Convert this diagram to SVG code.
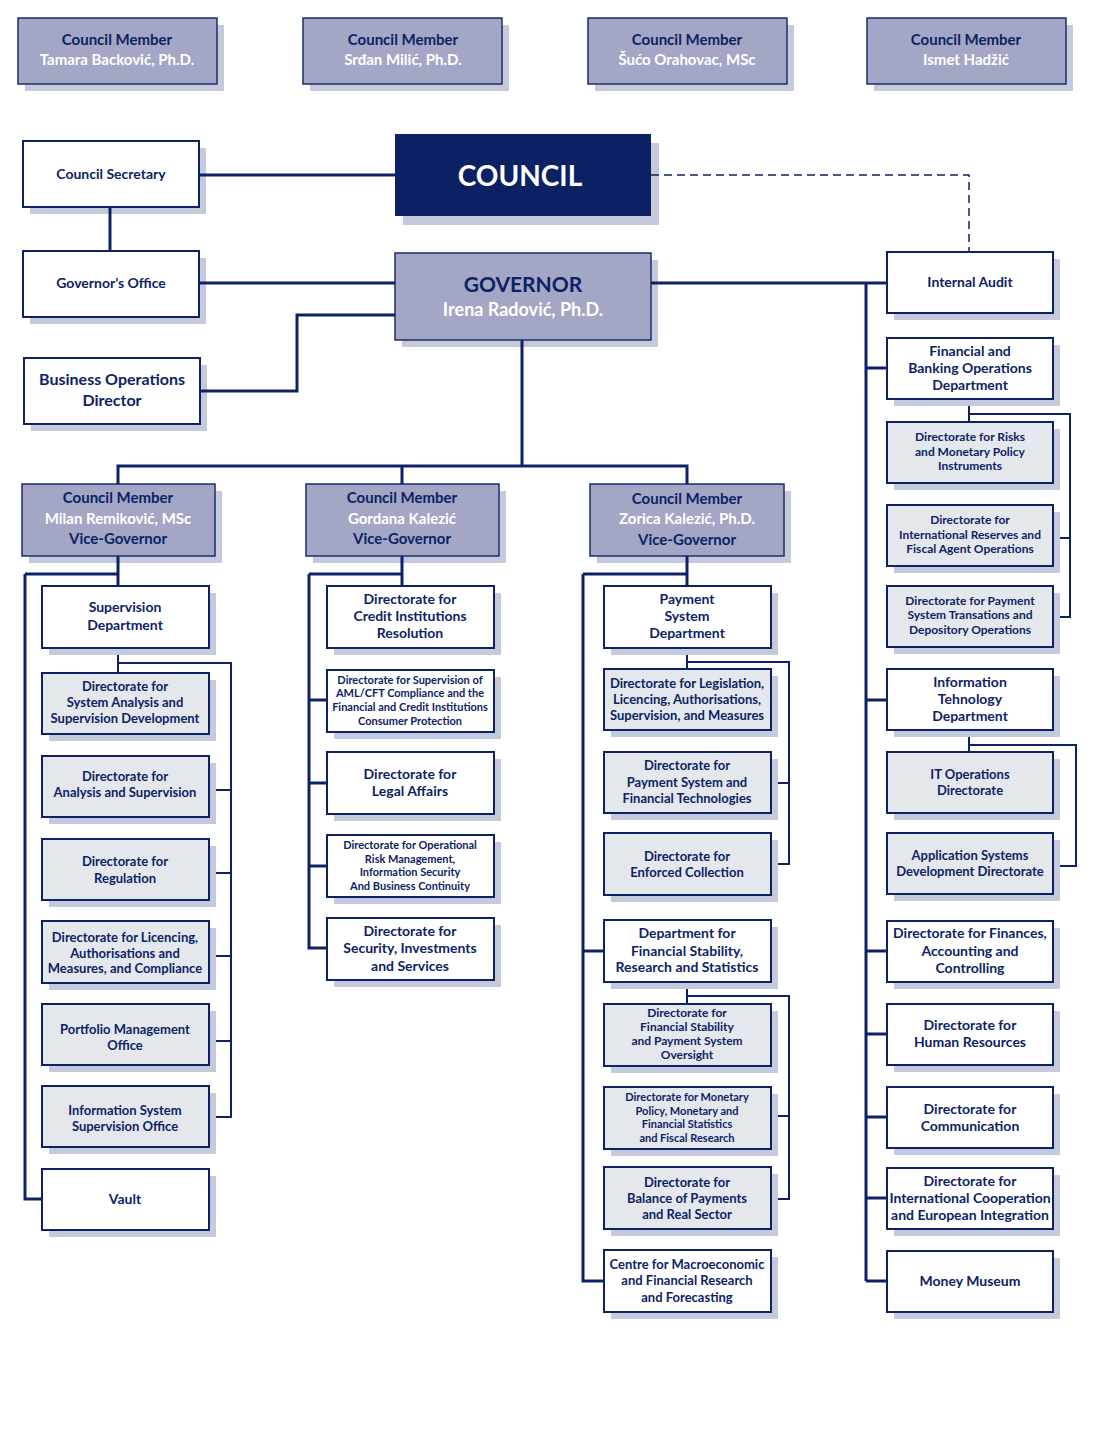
<svg xmlns="http://www.w3.org/2000/svg" width="1100" height="1445" viewBox="0 0 1100 1445">
<style>
.sh{fill:#c5c9dc}
.bw{fill:#fff;stroke:#0d2266;stroke-width:2}
.bg{fill:#e4e7ec;stroke:#0d2266;stroke-width:2}
.bm{fill:#a3a6c4;stroke:#1b2d6e;stroke-width:1.5}
.bc{fill:#0b2163}
text{font-family:Lato,"Open Sans","Liberation Sans",sans-serif;font-weight:700;fill:#0d2266;text-anchor:middle}
.w{fill:#fff}
.f15{font-size:15px}.f14{font-size:14px}.f13{font-size:13px}.f12{font-size:12px}.f11{font-size:11px}
.c{fill:none;stroke:#0d2266;stroke-width:3}
.s{fill:none;stroke:#0d2266;stroke-width:2}
.d{fill:none;stroke:#0d2266;stroke-width:1.5;stroke-dasharray:8 5}
</style>
<rect width="1100" height="1445" fill="#fff"/>

<g id="member1"><rect class="sh" x="25" y="25" width="199" height="66"/><rect class="bm" x="18" y="18" width="199" height="66"/><text class="f15" x="117" y="45">Council Member</text><text class="f15 w" x="117" y="65">Tamara Backović, Ph.D.</text></g>
<g id="member2"><rect class="sh" x="310" y="25" width="199" height="66"/><rect class="bm" x="303" y="18" width="199" height="66"/><text class="f15" x="403" y="45">Council Member</text><text class="f15 w" x="403" y="65">Srđan Milić, Ph.D.</text></g>
<g id="member3"><rect class="sh" x="595" y="25" width="199" height="66"/><rect class="bm" x="588" y="18" width="199" height="66"/><text class="f15" x="687" y="45">Council Member</text><text class="f15 w" x="687" y="65">Šućo Orahovac, MSc</text></g>
<g id="member4"><rect class="sh" x="874" y="25" width="199" height="66"/><rect class="bm" x="867" y="18" width="199" height="66"/><text class="f15" x="966" y="45">Council Member</text><text class="f15 w" x="966" y="65">Ismet Hadžić</text></g>

<g id="council-secretary"><rect class="sh" x="30" y="148" width="176" height="66"/><rect class="bw" x="23" y="141" width="176" height="66"/><text class="f14" x="111" y="179">Council Secretary</text></g>
<g id="governors-office"><rect class="sh" x="30" y="258" width="176" height="66"/><rect class="bw" x="23" y="251" width="176" height="66"/><text class="f14" x="111" y="288">Governor’s Office</text></g>
<g id="business-operations"><rect class="sh" x="31" y="365" width="176" height="66"/><rect class="bw" x="24" y="358" width="176" height="66"/><text x="112" y="385" style="font-size:16px">Business Operations</text><text x="112" y="406" style="font-size:16px">Director</text></g>
<g id="council"><rect class="sh" x="403" y="143" width="256" height="82"/><rect class="bc" x="395" y="134" width="256" height="82"/><text class="w" x="520" y="186" style="font-size:28px">COUNCIL</text></g>
<g id="governor"><rect class="sh" x="402" y="260" width="256" height="87"/><rect class="bm" x="395" y="253" width="256" height="87"/><text x="523" y="292" style="font-size:21px">GOVERNOR</text><text class="w" x="523" y="316" style="font-size:18px">Irena Radović, Ph.D.</text></g>

<g id="vg1"><rect class="sh" x="29" y="491" width="193" height="72"/><rect class="bm" x="22" y="484" width="193" height="72"/><text class="f15" x="118" y="503">Council Member</text><text class="f15 w" x="118" y="524">Milan Remiković, MSc</text><text class="f15" x="118" y="544">Vice-Governor</text></g>
<g id="vg2"><rect class="sh" x="313" y="491" width="193" height="72"/><rect class="bm" x="306" y="484" width="193" height="72"/><text class="f15" x="402" y="503">Council Member</text><text class="f15 w" x="402" y="524">Gordana Kalezić</text><text class="f15" x="402" y="544">Vice-Governor</text></g>
<g id="vg3"><rect class="sh" x="597" y="491" width="194" height="72"/><rect class="bm" x="590" y="484" width="194" height="72"/><text class="f15" x="687" y="504">Council Member</text><text class="f15 w" x="687" y="524">Zorica Kalezić, Ph.D.</text><text class="f15" x="687" y="545">Vice-Governor</text></g>

<g id="supervision-dept"><rect class="sh" x="49" y="593" width="167" height="62"/><rect class="bw" x="42" y="586" width="167" height="62"/><text class="f14" x="125" y="612">Supervision</text><text class="f14" x="125" y="630">Department</text></g>
<g id="dir-system-analysis"><rect class="sh" x="49" y="680" width="167" height="61"/><rect class="bg" x="42" y="673" width="167" height="61"/><text class="f13" x="125" y="691">Directorate for</text><text class="f13" x="125" y="707">System Analysis and</text><text class="f13" x="125" y="723">Supervision Development</text></g>
<g id="dir-analysis-supervision"><rect class="sh" x="49" y="763" width="167" height="61"/><rect class="bg" x="42" y="756" width="167" height="61"/><text class="f13" x="125" y="781">Directorate for</text><text class="f13" x="125" y="797">Analysis and Supervision</text></g>
<g id="dir-regulation"><rect class="sh" x="49" y="846" width="167" height="61"/><rect class="bg" x="42" y="839" width="167" height="61"/><text class="f13" x="125" y="866">Directorate for</text><text class="f13" x="125" y="883">Regulation</text></g>
<g id="dir-licencing"><rect class="sh" x="49" y="928" width="167" height="62"/><rect class="bg" x="42" y="921" width="167" height="62"/><text class="f13" x="125" y="942">Directorate for Licencing,</text><text class="f13" x="125" y="958">Authorisations and</text><text class="f13" x="125" y="973">Measures, and Compliance</text></g>
<g id="portfolio-office"><rect class="sh" x="49" y="1011" width="167" height="61"/><rect class="bg" x="42" y="1004" width="167" height="61"/><text class="f13" x="125" y="1034">Portfolio Management</text><text class="f13" x="125" y="1050">Office</text></g>
<g id="is-supervision-office"><rect class="sh" x="49" y="1093" width="167" height="61"/><rect class="bg" x="42" y="1086" width="167" height="61"/><text class="f13" x="125" y="1115">Information System</text><text class="f13" x="125" y="1131">Supervision Office</text></g>
<g id="vault"><rect class="sh" x="49" y="1176" width="167" height="61"/><rect class="bw" x="42" y="1169" width="167" height="61"/><text class="f14" x="125" y="1204">Vault</text></g>

<g id="dir-credit-resolution"><rect class="sh" x="334" y="593" width="167" height="62"/><rect class="bw" x="327" y="586" width="167" height="62"/><text class="f14" x="410" y="604">Directorate for</text><text class="f14" x="410" y="621">Credit Institutions</text><text class="f14" x="410" y="638">Resolution</text></g>
<g id="dir-aml"><rect class="sh" x="334" y="677" width="167" height="62"/><rect class="bw" x="327" y="670" width="167" height="62"/><text class="f11" x="410" y="684">Directorate for Supervision of</text><text class="f11" x="410" y="697">AML/CFT Compliance and the</text><text class="f11" x="410" y="711">Financial and Credit Institutions</text><text class="f11" x="410" y="725">Consumer Protection</text></g>
<g id="dir-legal"><rect class="sh" x="334" y="759" width="167" height="62"/><rect class="bw" x="327" y="752" width="167" height="62"/><text class="f14" x="410" y="779">Directorate for</text><text class="f14" x="410" y="796">Legal Affairs</text></g>
<g id="dir-oprisk"><rect class="sh" x="334" y="842" width="167" height="62"/><rect class="bw" x="327" y="835" width="167" height="62"/><text class="f11" x="410" y="849">Directorate for Operational</text><text class="f11" x="410" y="863">Risk Management,</text><text class="f11" x="410" y="876">Information Security</text><text class="f11" x="410" y="890">And Business Continuity</text></g>
<g id="dir-security"><rect class="sh" x="334" y="925" width="167" height="62"/><rect class="bw" x="327" y="918" width="167" height="62"/><text class="f14" x="410" y="936">Directorate for</text><text class="f14" x="410" y="953">Security, Investments</text><text class="f14" x="410" y="971">and Services</text></g>

<g id="payment-dept"><rect class="sh" x="611" y="593" width="167" height="62"/><rect class="bw" x="604" y="586" width="167" height="62"/><text class="f14" x="687" y="604">Payment</text><text class="f14" x="687" y="621">System</text><text class="f14" x="687" y="638">Department</text></g>
<g id="dir-legislation"><rect class="sh" x="611" y="676" width="167" height="61"/><rect class="bg" x="604" y="669" width="167" height="61"/><text class="f13" x="687" y="688">Directorate for Legislation,</text><text class="f13" x="687" y="704">Licencing, Authorisations,</text><text class="f13" x="687" y="720">Supervision, and Measures</text></g>
<g id="dir-payment-fintech"><rect class="sh" x="611" y="759" width="167" height="61"/><rect class="bg" x="604" y="752" width="167" height="61"/><text class="f13" x="687" y="770">Directorate for</text><text class="f13" x="687" y="787">Payment System and</text><text class="f13" x="687" y="803">Financial Technologies</text></g>
<g id="dir-enforced"><rect class="sh" x="611" y="840" width="167" height="62"/><rect class="bg" x="604" y="833" width="167" height="62"/><text class="f13" x="687" y="861">Directorate for</text><text class="f13" x="687" y="877">Enforced Collection</text></g>
<g id="finstab-dept"><rect class="sh" x="611" y="927" width="167" height="62"/><rect class="bw" x="604" y="920" width="167" height="62"/><text class="f14" x="687" y="938">Department for</text><text class="f14" x="687" y="956">Financial Stability,</text><text class="f14" x="687" y="972">Research and Statistics</text></g>
<g id="dir-finstab-oversight"><rect class="sh" x="611" y="1011" width="167" height="62"/><rect class="bg" x="604" y="1004" width="167" height="62"/><text class="f12" x="687" y="1017">Directorate for</text><text class="f12" x="687" y="1031">Financial Stability</text><text class="f12" x="687" y="1045">and Payment System</text><text class="f12" x="687" y="1059">Oversight</text></g>
<g id="dir-monetary"><rect class="sh" x="611" y="1094" width="167" height="62"/><rect class="bg" x="604" y="1087" width="167" height="62"/><text class="f11" x="687" y="1101">Directorate for Monetary</text><text class="f11" x="687" y="1115">Policy, Monetary and</text><text class="f11" x="687" y="1128">Financial Statistics</text><text class="f11" x="687" y="1142">and Fiscal Research</text></g>
<g id="dir-bop"><rect class="sh" x="611" y="1174" width="167" height="62"/><rect class="bg" x="604" y="1167" width="167" height="62"/><text class="f13" x="687" y="1187">Directorate for</text><text class="f13" x="687" y="1203">Balance of Payments</text><text class="f13" x="687" y="1219">and Real Sector</text></g>
<g id="centre-macro"><rect class="sh" x="611" y="1257" width="167" height="62"/><rect class="bw" x="604" y="1250" width="167" height="62"/><text class="f13" x="687" y="1269">Centre for Macroeconomic</text><text class="f13" x="687" y="1285">and Financial Research</text><text class="f13" x="687" y="1302">and Forecasting</text></g>

<g id="internal-audit"><rect class="sh" x="894" y="259" width="166" height="61"/><rect class="bw" x="887" y="252" width="166" height="61"/><text class="f14" x="970" y="287">Internal Audit</text></g>
<g id="fin-banking-dept"><rect class="sh" x="894" y="345" width="166" height="61"/><rect class="bw" x="887" y="338" width="166" height="61"/><text class="f14" x="970" y="356">Financial and</text><text class="f14" x="970" y="373">Banking Operations</text><text class="f14" x="970" y="390">Department</text></g>
<g id="dir-risks"><rect class="sh" x="894" y="429" width="166" height="61"/><rect class="bg" x="887" y="422" width="166" height="61"/><text class="f12" x="970" y="441">Directorate for Risks</text><text class="f12" x="970" y="456">and Monetary Policy</text><text class="f12" x="970" y="470">Instruments</text></g>
<g id="dir-reserves"><rect class="sh" x="894" y="512" width="166" height="61"/><rect class="bg" x="887" y="505" width="166" height="61"/><text class="f12" x="970" y="524">Directorate for</text><text class="f12" x="970" y="539">International Reserves and</text><text class="f12" x="970" y="553">Fiscal Agent Operations</text></g>
<g id="dir-payment-depository"><rect class="sh" x="894" y="593" width="166" height="61"/><rect class="bg" x="887" y="586" width="166" height="61"/><text class="f12" x="970" y="605">Directorate for Payment</text><text class="f12" x="970" y="619">System Transations and</text><text class="f12" x="970" y="634">Depository Operations</text></g>
<g id="it-dept"><rect class="sh" x="894" y="676" width="166" height="61"/><rect class="bw" x="887" y="669" width="166" height="61"/><text class="f14" x="970" y="687">Information</text><text class="f14" x="970" y="704">Tehnology</text><text class="f14" x="970" y="721">Department</text></g>
<g id="it-operations"><rect class="sh" x="894" y="759" width="166" height="61"/><rect class="bg" x="887" y="752" width="166" height="61"/><text class="f13" x="970" y="779">IT Operations</text><text class="f13" x="970" y="795">Directorate</text></g>
<g id="app-systems"><rect class="sh" x="894" y="840" width="166" height="61"/><rect class="bg" x="887" y="833" width="166" height="61"/><text class="f13" x="970" y="860">Application Systems</text><text class="f13" x="970" y="876">Development Directorate</text></g>
<g id="dir-finances"><rect class="sh" x="894" y="928" width="166" height="61"/><rect class="bw" x="887" y="921" width="166" height="61"/><text class="f14" x="970" y="938">Directorate for Finances,</text><text class="f14" x="970" y="956">Accounting and</text><text class="f14" x="970" y="973">Controlling</text></g>
<g id="dir-hr"><rect class="sh" x="894" y="1011" width="166" height="61"/><rect class="bw" x="887" y="1004" width="166" height="61"/><text class="f14" x="970" y="1030">Directorate for</text><text class="f14" x="970" y="1047">Human Resources</text></g>
<g id="dir-communication"><rect class="sh" x="894" y="1094" width="166" height="61"/><rect class="bw" x="887" y="1087" width="166" height="61"/><text class="f14" x="970" y="1114">Directorate for</text><text class="f14" x="970" y="1131">Communication</text></g>
<g id="dir-intl-coop"><rect class="sh" x="894" y="1175" width="166" height="61"/><rect class="bw" x="887" y="1168" width="166" height="61"/><text class="f14" x="970" y="1186">Directorate for</text><text class="f14" x="970" y="1203">International Cooperation</text><text class="f14" x="970" y="1220">and European Integration</text></g>
<g id="money-museum"><rect class="sh" x="894" y="1258" width="166" height="61"/><rect class="bw" x="887" y="1251" width="166" height="61"/><text class="f14" x="970" y="1286">Money Museum</text></g>

<g id="connectors">
<path class="c" d="M199,175H395M110,207V251M199,283H395M200,391H297V315H395M651,283H887M866,283V1281M866,368H887M866,700H887M866,951H887M866,1034H887M866,1117H887M866,1198H887M866,1281H887M522,340V466M118,484V466H687V484M402,466V484"/>
<path class="c" d="M118,556V586M25,574H118M25,574V1199H42"/>
<path class="c" d="M402,556V586M309,574H402M309,574V948H327M309,700H327M309,783H327M309,866H327"/>
<path class="c" d="M687,556V586M583,574H687M583,574V1281H604M583,951H604"/>
<path class="d" d="M651,175H969V252"/>
<path class="s" d="M118,655V673M118,663H231V1117H216M216,790H231M216,873H231M216,956H231M216,1041H231"/>
<path class="s" d="M687,655V669M687,662H789V864H778M778,783H789M687,989V1004M687,996H789V1199H778M778,1116H789"/>
<path class="s" d="M969,406V422M969,414H1070V617H1060M1060,538H1070M969,737V752M969,745H1076V866H1060"/>
</g>
</svg>
